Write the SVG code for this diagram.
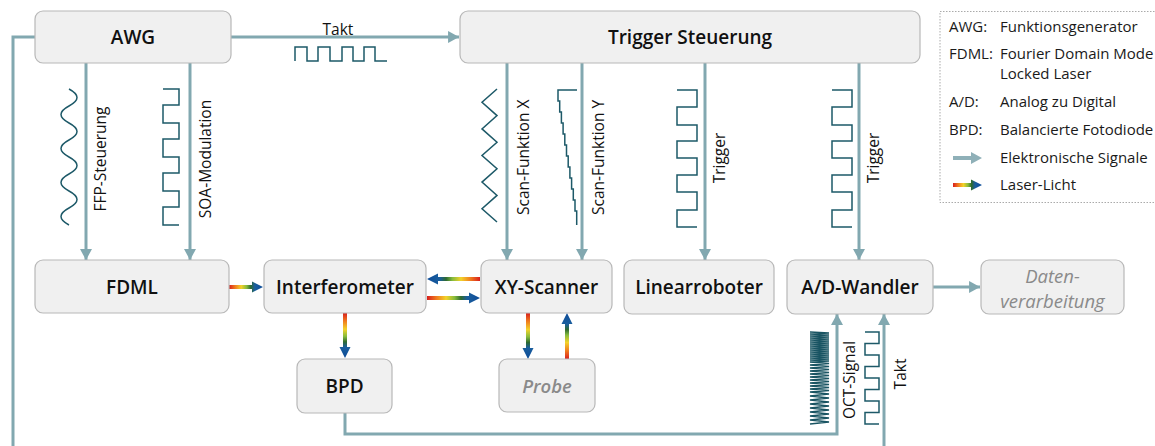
<svg xmlns="http://www.w3.org/2000/svg" width="1155" height="446" viewBox="0 0 1155 446">
<defs>
<style>
.box{fill:#f0f0f0;stroke:#b8b8b8;stroke-width:1.2}
.lbl{font-family:"Open Sans","Noto Sans",sans-serif;font-size:19px;font-weight:600;fill:#111;text-anchor:middle}
.ghost{font-family:"Open Sans","Noto Sans",sans-serif;font-size:18.5px;fill:#8a8a8a;font-style:italic;text-anchor:middle}
.sig{font-family:"Open Sans","Noto Sans",sans-serif;font-size:15.5px;fill:#111}
.leg{font-family:"Open Sans","Noto Sans",sans-serif;font-size:15px;fill:#1a1a1a}
.wire{fill:none;stroke:#82a8b0;stroke-width:3}
.arr{marker-end:url(#ah)}
.wave{fill:none;stroke:#1d5968;stroke-width:1.5}
</style>
<marker id="ah" markerUnits="userSpaceOnUse" markerWidth="12" markerHeight="12" viewBox="0 0 10 11" refX="10" refY="5.5" orient="auto">
<path d="M0 0 L10 5.5 L0 11 Z" fill="#82a8b0"/>
</marker>
<linearGradient id="gR" x1="0" y1="0" x2="1" y2="0"><stop offset="0" stop-color="#d81e1e"/><stop offset="0.18" stop-color="#f07c1e"/><stop offset="0.36" stop-color="#f3d22a"/><stop offset="0.52" stop-color="#86bb3c"/><stop offset="0.64" stop-color="#2e6a30"/><stop offset="0.76" stop-color="#1a5e9e"/><stop offset="1" stop-color="#0e4c98"/></linearGradient>
<linearGradient id="gL" href="#gR" x1="1" y1="0" x2="0" y2="0"/>
<linearGradient id="gD" href="#gR" x1="0" y1="0" x2="0" y2="1"/>
<linearGradient id="gU" href="#gR" x1="0" y1="1" x2="0" y2="0"/>
</defs>

<g id="connectors">
<path class="wire" d="M35 37 H13 V446"/>
<path class="wire arr" d="M231 37 H459"/>
<path class="wire arr" d="M86 63 V260"/>
<path class="wire arr" d="M190 63 V260"/>
<path class="wire arr" d="M507 63 V260"/>
<path class="wire arr" d="M582 63 V260"/>
<path class="wire arr" d="M705 63 V260"/>
<path class="wire arr" d="M859 63 V260"/>
<path class="wire arr" d="M345 413 V434 H837 V314"/>
<path class="wire arr" d="M884 446 V314"/>
<path class="wire arr" d="M933 287 H980"/>
<polygon fill="url(#gR)" points="229,285 252,285 252,281.5 263,287 252,292.5 252,289 229,289"/>
<polygon fill="url(#gL)" points="480,277 438,277 438,273.5 427,279 438,284.5 438,281 480,281"/>
<polygon fill="url(#gR)" points="427,296 469,296 469,292.5 480,298 469,303.5 469,300 427,300"/>
<polygon fill="url(#gD)" points="343,313 343,347 339.5,347 345,358 350.5,347 347,347 347,313"/>
<polygon fill="url(#gD)" points="526,313 526,348 522.5,348 528,359 533.5,348 530,348 530,313"/>
<polygon fill="url(#gU)" points="565,359 565,324 561.5,324 567,313 572.5,324 569,324 569,359"/>
</g>

<g id="signals">
<text class="sig" x="338" y="35" text-anchor="middle">Takt</text>
<path class="wave" d="M295 61 V47 H307 V61 H318 V47 H330 V61 H342 V47 H353 V61 H364 V47 H375 V61 H387"/>
<path class="wave" d="M69 89 q16 8.5 0 17 t0 17 t0 17 t0 17 t0 17 t0 17 t0 17 t0 17"/>
<text class="sig" transform="translate(106,159) rotate(-90)" text-anchor="middle">FFP-Steuerung</text>
<path class="wave" d="M163 89 H179 V105 H163 V123 H179 V139 H163 V157 H179 V173 H163 V191 H179 V207 H163 V225 H179"/>
<text class="sig" transform="translate(211,159) rotate(-90)" text-anchor="middle">SOA-Modulation</text>
<path class="wave" d="M497 89 L482 102.3 L497 115.6 L482 128.9 L497 142.2 L482 155.5 L497 168.8 L482 182.1 L497 195.4 L482 208.7 L497 222"/>
<text class="sig" transform="translate(529,215) rotate(-90)">Scan-Funktion X</text>
<path class="wave" d="M577 90 H558 V101 h1.7 v11 h1.7 v11 h1.7 v11 h1.7 v11 h1.7 v11 h1.7 v11 h1.7 v11 h1.7 v11 h1.7 v11 h1.7 v11 h1.7 v14"/>
<text class="sig" transform="translate(604,215) rotate(-90)">Scan-Funktion Y</text>
<path class="wave" d="M677 90 H697 V107 H677 V125 H697 V141 H677 V158 H697 V175 H677 V192 H697 V210 H677 V227 H697"/>
<text class="sig" transform="translate(725,158) rotate(-90)" text-anchor="middle">Trigger</text>
<path class="wave" d="M832 90 H852 V107 H832 V125 H852 V141 H832 V158 H852 V175 H832 V192 H852 V210 H832 V227 H852"/>
<text class="sig" transform="translate(879,158) rotate(-90)" text-anchor="middle">Trigger</text>
<path fill="none" stroke="#1a5563" stroke-width="1.6" d="M810 332 l19 1 l-19 1 l19 1 l-19 1 l19 1 l-19 1 l19 1 l-19 1 l19 1 l-19 1 l19 1 l-19 1 l19 1 l-19 1 l19 1 l-19 1 l19 1 l-19 1 l19 1 l-19 1 l19 1 l-19 1 l19 1 l-19 1 l19 1 l-19 1 l19 1 l-19 1 l19 1 l-19 1 l19 1.5 l-19 1.5 l19 1.5 l-19 1.5 l19 1.5 l-19 1.5 l19 1.5 l-19 1.5 l19 1.5 l-19 1.5 l19 1.5 l-19 1.5 l19 1.5 l-19 1.5 l19 1.5 l-19 1.5 l19 1.5 l-19 1.5 l19 1.5 l-19 1.5 l19 2 l-19 2 l19 2 l-19 2 l19 2 l-19 2 l19 2 l-19 2 l19 2 l-19 2 l19 2 l-19 2 l19 2 l-19 2 l19 2 l-19 2"/>
<text class="sig" transform="translate(855,380) rotate(-90)" text-anchor="middle">OCT-Signal</text>
<path class="wave" d="M865 332 H879 V343.5 H865 V355 H879 V366.5 H865 V378 H879 V389.5 H865 V401 H879 V412.5 H865 V424 H879"/>
<text class="sig" transform="translate(906,374) rotate(-90)" text-anchor="middle">Takt</text>
</g>

<g id="awg"><rect class="box" x="35" y="11" width="196" height="52" rx="8"/><text class="lbl" x="133" y="43.5">AWG</text></g>
<g id="trigger"><rect class="box" x="460" y="11" width="460" height="52" rx="8"/><text class="lbl" x="690" y="43.5">Trigger Steuerung</text></g>
<g id="fdml"><rect class="box" x="35" y="260" width="194" height="53" rx="8"/><text class="lbl" x="132" y="293.5">FDML</text></g>
<g id="interferometer"><rect class="box" x="264" y="260" width="162" height="53" rx="8"/><text class="lbl" x="345" y="293.5">Interferometer</text></g>
<g id="xyscanner"><rect class="box" x="481" y="260" width="131" height="53" rx="8"/><text class="lbl" x="546.5" y="293.5">XY-Scanner</text></g>
<g id="linearroboter"><rect class="box" x="624" y="260" width="150" height="54" rx="8"/><text class="lbl" x="699" y="294">Linearroboter</text></g>
<g id="adwandler"><rect class="box" x="787" y="260" width="146" height="54" rx="8"/><text class="lbl" x="860" y="294">A/D-Wandler</text></g>
<g id="datenverarbeitung"><rect class="box" x="981" y="260" width="143" height="54" rx="8"/><text class="ghost" x="1052.5" y="283">Daten-</text><text class="ghost" x="1052.5" y="308">verarbeitung</text></g>
<g id="bpd"><rect class="box" x="297" y="359" width="95" height="54" rx="8"/><text class="lbl" x="344.5" y="392.5">BPD</text></g>
<g id="probe"><rect class="box" x="499" y="359" width="96" height="53" rx="8"/><text class="ghost" x="547" y="392.5" font-weight="600">Probe</text></g>

<g id="legend">
<rect x="940" y="11.5" width="220" height="191" fill="none" stroke="#aaa" stroke-width="1" stroke-dasharray="1.5 1.5"/>
<text class="leg" x="949" y="32">AWG:</text><text class="leg" x="1000" y="32">Funktionsgenerator</text>
<text class="leg" x="949" y="59">FDML:</text><text class="leg" x="1000" y="59">Fourier Domain Mode</text>
<text class="leg" x="1000" y="79">Locked Laser</text>
<text class="leg" x="949" y="107">A/D:</text><text class="leg" x="1000" y="107">Analog zu Digital</text>
<text class="leg" x="949" y="135">BPD:</text><text class="leg" x="1000" y="135">Balancierte Fotodiode</text>
<polygon fill="#8fb0b8" points="953,156 971,156 971,152 982,158 971,164 971,160 953,160"/>
<text class="leg" x="1000" y="163">Elektronische Signale</text>
<polygon fill="url(#gR)" points="953,183 971,183 971,179.5 982,185 971,190.5 971,187 953,187"/>
<text class="leg" x="1000" y="190">Laser-Licht</text>
</g>
</svg>
